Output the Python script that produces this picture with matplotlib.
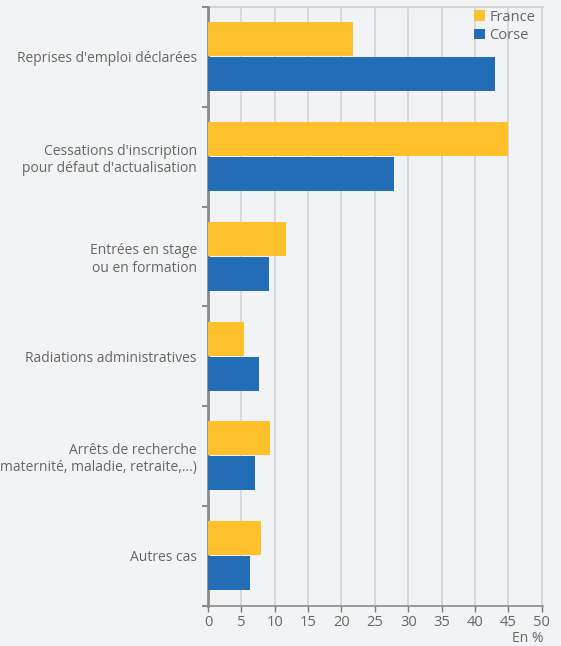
import numpy as np
import matplotlib.pyplot as plt

plt.rcParams['font.family'] = ['Open Sans', 'DejaVu Sans']

categories = ["Reprises d'emploi déclarées",
              "Cessations d'inscription\npour défaut d'actualisation",
              "Entrées en stage\nou en formation",
              "Radiations administratives",
              "Arrêts de recherche\n(maternité, maladie, retraite,...)",
              "Autres cas"]
france = [21.7, 44.9, 11.7, 5.4, 9.3, 7.9]
corse = [43.0, 27.8, 9.1, 7.6, 7.0, 6.3]
ticks = [0, 5, 10, 15, 20, 25, 30, 35, 40, 45, 50]

bg = '#f2f3f5'
c_france = '#fec12b'
c_corse = '#236cb6'
txt = '#666666'

fig = plt.figure(figsize=(5.61, 6.46), dpi=100, facecolor=bg)
ax = fig.add_axes([208/561, 1-605.5/646, 335/561, 598.5/646], facecolor=bg)

y = np.arange(len(categories))
h = 0.34
ax.barh(y - h/2 - 0.005, france, height=h, color=c_france, label='France', zorder=3)
ax.barh(y + h/2 + 0.005, corse, height=h, color=c_corse, label='Corse', zorder=3)

ax.set_xlim(0, 50.2)
ax.set_ylim(len(categories) - 0.5, -0.5)
ax.set_xticks(ticks)
ax.set_xticklabels([str(t) for t in ticks], color=txt, fontsize=10.5)
ax.tick_params(axis='x', length=4, width=1, color='#777777', pad=3)

ax.set_yticks(y)
ax.set_yticklabels(categories, color=txt, fontsize=10, ha='right', multialignment='right')
ax.tick_params(axis='y', which='major', length=0, pad=8)
ax.set_yticks(np.arange(-0.5, len(categories)), minor=True)
ax.tick_params(axis='y', which='minor', length=4.5, width=1.2, color='#777777')

for t in ticks[1:]:
    ax.axvline(t, color='#d2d3d6', lw=1.2, zorder=1)
ax.axhline(-0.5, color='#d2d3d6', lw=1.5, zorder=1, clip_on=False)

for s in ['top', 'right']:
    ax.spines[s].set_visible(False)
ax.spines['left'].set_color('#8a8a8a')
ax.spines['left'].set_linewidth(2)
ax.spines['bottom'].set_color('#8a8a8a')
ax.spines['bottom'].set_linewidth(1.2)

leg = ax.legend(loc='upper right', bbox_to_anchor=(0.998, 1.008), frameon=False, fontsize=10.5,
                handlelength=0.75, handleheight=0.75, handletextpad=0.3, labelspacing=0.25,
                borderaxespad=0.1)
for t in leg.get_texts():
    t.set_color(txt)

fig.text(543/561, 1-638/646, 'En %', ha='right', va='center', color=txt, fontsize=10)

fig.savefig('out.png', dpi=100, facecolor=bg)
